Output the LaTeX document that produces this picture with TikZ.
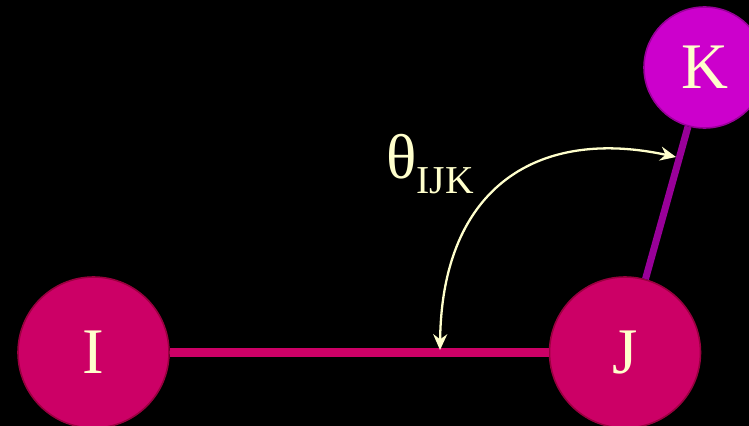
\documentclass[tikz,border=0pt]{standalone}
\usepackage{fontspec}
\setmainfont{Liberation Serif}
\usepackage{tikz}
\usetikzlibrary{arrows.meta,calc}
\usepackage{xcolor}
\definecolor{atomred}{HTML}{CC0066}
\definecolor{atomredline}{HTML}{99003F}
\definecolor{atompink}{HTML}{CC00CC}
\definecolor{atompinkline}{HTML}{990099}
\definecolor{labelyellow}{HTML}{FFFFCC}

\begin{document}
\begin{tikzpicture}[x=1cm,y=1cm,
  every node/.style={text=labelyellow},
  atom/.style={circle,draw,line width=0.9pt,inner sep=0pt,font=\fontsize{37}{37}\selectfont}]
\fill[black] (0,0) rectangle (14.98,-8.52);
\useasboundingbox (0,0) rectangle (14.98,-8.52);
\node[atom,fill=atomred,draw=atomredline,minimum size=3.02cm] (I) at (1.87,-7.05) {I};
\node[atom,fill=atomred,draw=atomredline,minimum size=3.02cm] (J) at (12.5,-7.05) {J};
\node[atom,fill=atompink,draw=atompinkline,minimum size=2.42cm] (K) at (14.09,-1.35) {K};
\draw[atomred,line width=0.17cm] (I) -- (J);
\draw[atompinkline,line width=0.14cm] (J) -- (K);
\coordinate (a1) at (8.8,-7.0);
\coordinate (a2) at (13.52,-3.14);
\draw[labelyellow,line width=1.3pt,{Stealth[length=9pt,width=8pt]}-{Stealth[length=9pt,width=8pt]}]
  (a1) .. controls (8.84,-3.7) and (10.8,-2.55) .. (a2);
\node[anchor=base west,inner sep=0pt] (theta) at (7.72,-3.58)
  {\fontsize{36}{36}\selectfont θ\raisebox{-8pt}{\fontsize{22.5}{22.5}\selectfont IJK}};
\end{tikzpicture}
\end{document}
